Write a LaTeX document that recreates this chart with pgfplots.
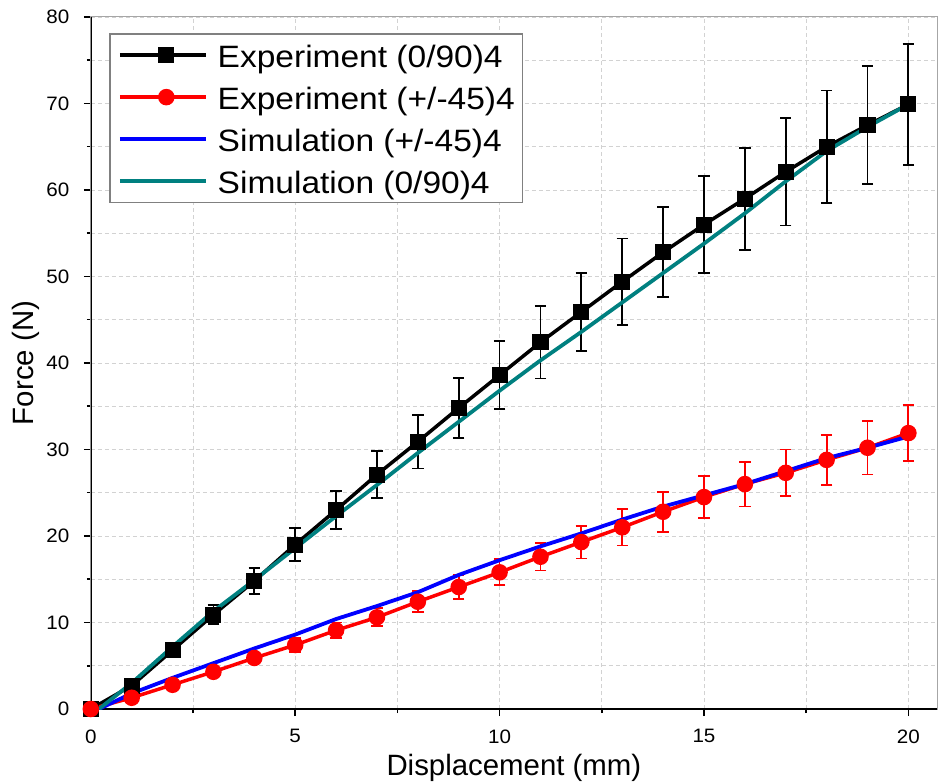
\documentclass[border=0pt]{standalone}
\usepackage{pgfplots}
\pgfplotsset{compat=1.18}
\usepackage{pgfplotstable}
\usepackage{fontspec}
\setmainfont{Liberation Sans}
\newfontfamily\legfont{Liberation Sans}[FakeStretch=1.085]
\newfontfamily\tickfont{Liberation Sans}[FakeStretch=1.06]
\definecolor{simteal}{RGB}{0,128,128}

\pgfplotstableread{
x y e
0 0 0
1 2.7 0.4
2 6.8 0.7
3 10.9 1.1
4 14.8 1.5
5 19.0 1.9
6 23.0 2.2
7 27.1 2.7
8 30.9 3.1
9 34.8 3.5
10 38.6 3.9
11 42.4 4.2
12 45.9 4.5
13 49.4 5.0
14 52.8 5.2
15 56.0 5.6
16 59.0 5.9
17 62.1 6.2
18 65.0 6.5
19 67.5 6.8
20 69.9 7.0
}\expA

\pgfplotstableread{
x y e
0 0 0
1 1.3 0.4
2 2.8 0.4
3 4.3 0.5
4 5.9 0.6
5 7.4 0.8
6 9.1 0.9
7 10.6 1.05
8 12.4 1.2
9 14.1 1.4
10 15.8 1.5
11 17.6 1.6
12 19.3 1.9
13 21.0 2.1
14 22.8 2.3
15 24.5 2.4
16 26.0 2.6
17 27.3 2.7
18 28.8 2.9
19 30.2 3.1
20 31.9 3.2
}\expB

\pgfplotstableread{
x y
0.2 0
1 1.8
2 3.6
3 5.3
4 7.0
5 8.6
6 10.4
7 11.9
8 13.5
9 15.5
10 17.2
11 18.8
12 20.3
13 21.9
14 23.4
15 24.7
16 26.0
17 27.5
18 29.0
19 30.2
20 31.5
}\simB

\pgfplotstableread{
x y
0.2 0
1 3.0
2 7.2
3 11.3
4 14.9
5 18.6
6 22.3
7 25.9
8 29.6
9 33.2
10 36.8
11 40.3
12 43.6
13 47.0
14 50.4
15 53.8
16 57.3
17 61.0
18 64.5
19 67.3
20 69.9
}\simA

\begin{document}
\begin{tikzpicture}
\begin{axis}[
  scale only axis, width=846.2bp, height=692bp,
  xmin=0, xmax=20.7, ymin=0, ymax=80,
  xtick={0,5,10,15,20}, ytick={0,10,20,30,40,50,60,70,80},
  xticklabels={0,5,10,15,20},
  yticklabels={0,10,20,30,40,50,60,70,80},
  minor tick num=1,
  tick pos=left, tick align=outside,
  major tick length=7bp, minor tick length=4bp,
  every tick/.style={black, line width=1.5bp},
  grid=both,
  major grid style={dash pattern=on 4bp off 3bp, gray!35, line width=0.8bp},
  minor grid style={dash pattern=on 4bp off 3bp, gray!35, line width=0.8bp},
  axis line style={gray!70, line width=1bp},
  tick label style={font=\tickfont\fontsize{19.5}{21}\selectfont},
  yticklabel style={anchor=east, xshift=-11bp},
  xticklabel style={anchor=north, yshift=-10bp},
  xlabel={Displacement (mm)}, ylabel={Force (N)},
  label style={font=\fontsize{29.5}{32}\selectfont},
  x label style={at={(axis description cs:0.5,0)}, yshift=-66bp, anchor=base},
  y label style={at={(axis description cs:-0.0677,0.5)}, anchor=base},
  legend cell align=left,
  legend style={at={(axis description cs:0.0219,0.9764)}, anchor=north west,
    draw=gray, line width=1.2bp, font=\legfont\fontsize{31}{34}\selectfont,
    inner xsep=8bp, inner ysep=3bp, row sep=5.6bp, column sep=10bp,
    nodes={inner xsep=0bp, inner ysep=0bp, text height=30.4bp, text depth=6bp}},
  legend image code/.code={\path (0bp,0bp) -- (86bp,0bp);\draw[mark repeat=2,mark phase=2,#1] plot coordinates {(7bp,0bp) (46.5bp,0bp) (86bp,0bp)};},
]
\draw[black, line width=2bp] (rel axis cs:0,1) -- (rel axis cs:0,0) -- (rel axis cs:1,0);
\addplot[black, line width=3.5bp, mark=square*, mark size=6.3bp,
  error bars/.cd, y dir=both, y explicit,
  error bar style={line width=1.8bp, black},
  error mark options={rotate=90, mark size=5.7bp, line width=1.8bp, black}]
  table[x=x, y=y, y error=e] {\expA};
\addlegendentry{Experiment (0/90)4}
\addplot[red, line width=3.5bp, mark=*, mark size=6.5bp,
  error bars/.cd, y dir=both, y explicit,
  error bar style={line width=1.8bp, red},
  error mark options={rotate=90, mark size=5.7bp, line width=1.8bp, red}]
  table[x=x, y=y, y error=e] {\expB};
\addlegendentry{Experiment (+/-45)4}
\addplot[blue, line width=3.8bp, no marks] table[x=x, y=y] {\simB};
\addlegendentry{Simulation (+/-45)4}
\addplot[simteal, line width=3.8bp, no marks] table[x=x, y=y] {\simA};
\addlegendentry{Simulation (0/90)4}
\end{axis}
\pgfresetboundingbox
\path (-90.8bp,-75bp) rectangle (847.2bp,709bp);
\end{tikzpicture}
\end{document}
